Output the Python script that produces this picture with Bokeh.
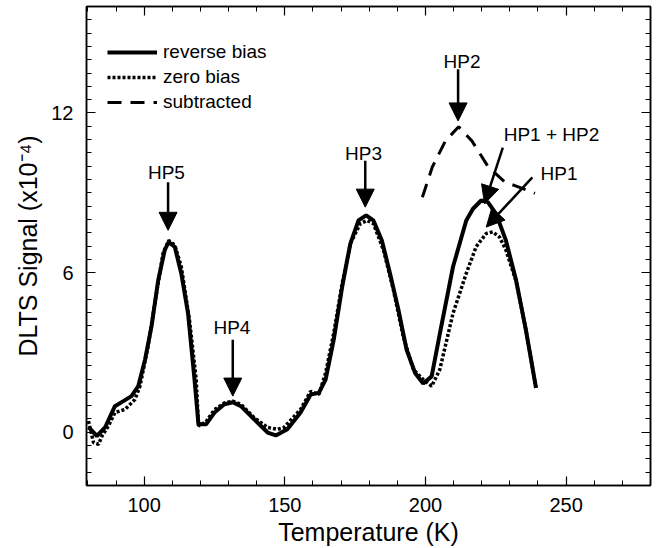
import numpy as np
from bokeh.plotting import figure
from bokeh.models import (Range1d, LinearAxis, FixedTicker, Arrow, NormalHead,
                          Legend, LegendItem, ColumnDataSource, CustomJSTickFormatter)
from bokeh.embed import file_html
from bokeh.resources import INLINE
from bokeh.core.properties import value

# ---------------- data ----------------
T_rev = [80.2, 83.2, 86.1, 89.6, 92.6, 95.5, 97.9, 100.3, 102.6, 105.0, 107.3, 108.7,
         110.9, 113.2, 115.6, 117.9, 119.3, 122.0, 125.0, 128.5, 131.5, 134.4, 139.1,
         143.9, 146.8, 150.9, 155.6, 159.2, 162.1, 164.5, 167.4, 170.4, 173.3, 176.2,
         178.9, 181.5, 184.5, 187.4, 190.4, 193.3, 196.3, 199.2, 202.2, 205.1, 209.8,
         214.5, 216.9, 219.8, 222.2, 225.1, 228.6, 232.2, 235.7, 239.3]
S_rev = [0.19, -0.14, 0.18, 0.98, 1.17, 1.36, 1.73, 2.73, 3.97, 5.72, 6.84, 7.15,
         6.96, 5.97, 4.47, 1.98, 0.30, 0.30, 0.74, 1.05, 1.13, 0.98, 0.49,
         -0.01, -0.12, 0.11, 0.74, 1.42, 1.48, 1.98, 3.48, 5.47, 7.09, 7.96,
         8.15, 7.96, 7.21, 5.97, 4.60, 3.10, 2.23, 1.83, 2.10, 3.70, 6.22,
         7.96, 8.40, 8.71, 8.65, 8.21, 7.21, 5.72, 3.85, 1.67]

T_zero = [80.2, 82.0, 83.8, 85.0, 87.3, 89.6, 93.2, 96.7, 98.5, 101.4, 103.8, 106.7,
          108.7, 110.9, 113.2, 116.1, 118.5, 119.3, 122.0, 125.0, 128.5, 131.5, 134.4,
          139.1, 143.9, 147.4, 149.7, 155.6, 159.2, 162.1, 164.5, 167.4, 170.4, 173.3,
          176.8, 179.2, 181.5, 185.1, 188.6, 192.1, 195.7, 199.2, 202.2, 205.1, 209.8,
          214.5, 218.0, 221.6, 223.9, 226.3, 228.6, 232.2, 235.7, 239.3]
S_zero = [0.42, -0.39, -0.45, -0.14, 0.24, 0.74, 0.86, 1.23, 1.73, 3.23, 4.85, 6.72,
          7.21, 7.03, 6.22, 4.22, 1.98, 0.24, 0.40, 0.85, 1.10, 1.17, 1.05,
          0.55, 0.18, 0.11, 0.18, 0.86, 1.54, 1.42, 2.23, 3.73, 5.60, 7.09,
          7.84, 7.96, 7.84, 6.84, 5.35, 3.60, 2.36, 1.98, 1.73, 2.36, 4.47,
          5.97, 6.97, 7.47, 7.53, 7.34, 6.85, 5.68, 3.85, 1.67]

T_sub = [198.9, 202.4, 207.1, 211.8, 216.5, 222.4, 228.3, 231.8, 238.9]
S_sub = [8.83, 9.96, 10.95, 11.48, 10.95, 9.96, 9.40, 9.27, 8.98]

series_names = ["reverse bias", "zero bias", "subtracted"]

peak_labels = ["HP5", "HP4", "HP3", "HP2", "HP1 + HP2", "HP1"]
label_T = [107.9, 131.2, 178.0, 213.0, 244.8, 247.5]
label_S = [9.78, 3.92, 10.47, 13.94, 11.18, 9.71]

arrow_T0 = [108.5, 131.5, 178.6, 211.6, 227.5, 238.0]
arrow_S0 = [9.40, 3.48, 10.20, 13.64, 10.70, 9.58]
arrow_T1 = [108.5, 131.5, 178.6, 211.6, 221.0, 221.6]
arrow_S1 = [7.59, 1.36, 8.46, 11.70, 8.59, 7.71]

x_major = [100, 150, 200, 250]
x_minor = list(range(80, 281, 10))
y_major = [0, 6, 12]
y_minor = list(np.arange(-2, 16.01, 0.5))

FONT = "Liberation Sans"

# ---------------- figure ----------------
p = figure(width=659, height=548, output_backend="svg", toolbar_location=None,
           x_range=Range1d(79.5, 280), y_range=Range1d(-2, 16),
           min_border_left=86, min_border_right=9, min_border_top=6, min_border_bottom=61,
           x_axis_label="Temperature (K)", y_axis_label="DLTS Signal (x10⁻⁴)")
p.grid.visible = False
p.outline_line_color = "black"
p.outline_line_width = 1.5
p.background_fill_color = "white"
p.border_fill_color = "white"

xt = FixedTicker(ticks=x_major, minor_ticks=x_minor)
yt = FixedTicker(ticks=y_major, minor_ticks=y_minor)
p.xaxis.ticker = xt
p.yaxis.ticker = yt


def style(ax):
    ax.axis_line_color = "black"
    ax.axis_line_width = 1.5
    ax.major_tick_in = 9
    ax.major_tick_out = 0
    ax.minor_tick_in = 5
    ax.minor_tick_out = 0
    ax.major_tick_line_width = 1.2
    ax.minor_tick_line_width = 1.0
    ax.major_tick_line_color = "black"
    ax.minor_tick_line_color = "black"
    ax.major_label_text_font = FONT
    ax.major_label_text_font_size = "20px"
    ax.major_label_text_color = "black"
    ax.axis_label_text_font = FONT
    ax.axis_label_text_font_size = "25px"
    ax.axis_label_text_font_style = "normal"
    ax.axis_label_text_color = "black"


for ax in p.xaxis + p.yaxis:
    style(ax)
p.xaxis.major_label_standoff = 12
p.xaxis.axis_label_standoff = 3
p.yaxis.major_label_standoff = 13
p.yaxis.axis_label_standoff = 6

blank = CustomJSTickFormatter(code="return ''")
top_ax = LinearAxis(ticker=xt, formatter=blank)
right_ax = LinearAxis(ticker=yt, formatter=blank)
for ax in (top_ax, right_ax):
    style(ax)
    ax.major_label_text_font_size = "0px"
    ax.major_label_standoff = 0
p.add_layout(top_ax, "above")
p.add_layout(right_ax, "right")

# ---------------- curves ----------------
r_rev = p.line(T_rev, S_rev, line_color="black", line_width=4)
r_zero = p.line(T_zero, S_zero, line_color="black", line_width=3.5, line_dash="3 2")
r_sub = p.line(T_sub, S_sub, line_color="black", line_width=3, line_dash="14 9")

legend = Legend(items=[LegendItem(label=series_names[0], renderers=[r_rev]),
                       LegendItem(label=series_names[1], renderers=[r_zero]),
                       LegendItem(label=series_names[2], renderers=[r_sub])],
                location=(21, 371))
legend.glyph_width = 50
legend.glyph_height = 24
legend.label_height = 24
legend.label_standoff = 6
legend.spacing = 1
legend.padding = 0
legend.margin = 0
legend.border_line_color = None
legend.background_fill_alpha = 0
legend.label_text_font = FONT
legend.label_text_font_size = "19px"
legend.label_text_color = "black"
p.add_layout(legend)

# ---------------- annotations ----------------
lab_src = ColumnDataSource(dict(x=label_T, y=label_S, t=peak_labels))
p.text(x="x", y="y", text="t", source=lab_src, text_font=value(FONT),
       text_font_size=value("19px"), text_align="center", text_baseline="middle",
       text_color="black")

arr_src = ColumnDataSource(dict(x0=arrow_T0, y0=arrow_S0, x1=arrow_T1, y1=arrow_S1))
p.add_layout(Arrow(x_start="x0", y_start="y0", x_end="x1", y_end="y1", source=arr_src,
                   line_color="black", line_width=2.5,
                   end=NormalHead(size=18, fill_color="black", line_color="black",
                                  line_width=1)))

open("out.html", "w").write(file_html(p, INLINE))
